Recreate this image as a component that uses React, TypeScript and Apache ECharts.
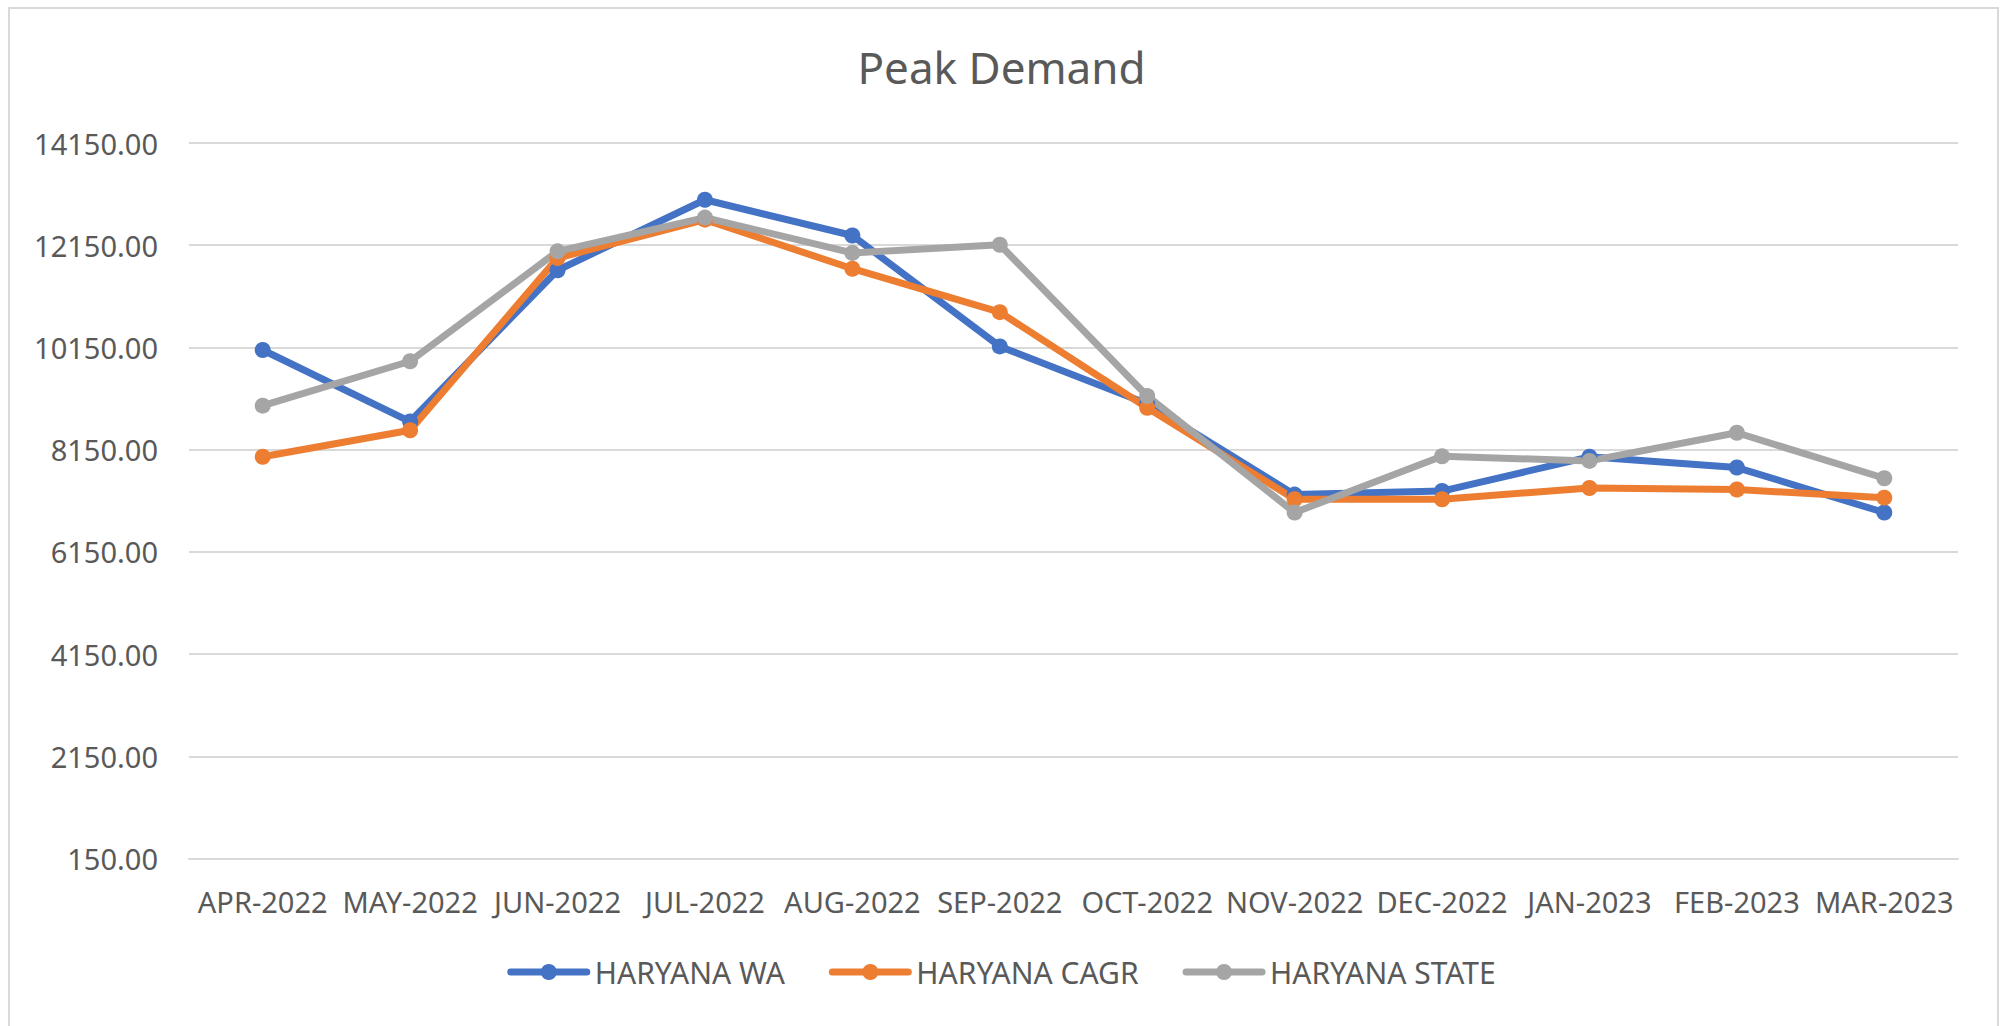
import React, { useEffect, useRef } from "react";
import * as echarts from "echarts";

const categories = [
  "APR-2022", "MAY-2022", "JUN-2022", "JUL-2022", "AUG-2022", "SEP-2022",
  "OCT-2022", "NOV-2022", "DEC-2022", "JAN-2023", "FEB-2023", "MAR-2023",
];
const haryanaWA = [10100, 8700, 11660, 13040, 12340, 10170, 9050, 7270, 7340, 8010, 7800, 6920];
const haryanaCAGR = [8010, 8530, 11900, 12650, 11690, 10840, 8970, 7180, 7180, 7400, 7370, 7210];
const haryanaState = [9010, 9880, 12030, 12690, 12000, 12160, 9200, 6920, 8020, 7930, 8480, 7590];
const yMin = 150;
const yMax = 14150;
const yStep = 2000;

const FONT = "Noto Sans";
const TEXT = "#595959";

export default function App() {
  const ref = useRef<HTMLDivElement>(null);
  useEffect(() => {
    if (!ref.current) return;
    const chart = echarts.init(ref.current, undefined, { renderer: "svg" });
    const mk = (name: string, data: number[], color: string) => ({
      name,
      type: "line",
      data,
      symbol: "circle",
      symbolSize: 16,
      showSymbol: true,
      lineStyle: { width: 7, color },
      itemStyle: { color },
      emphasis: { disabled: true },
    });
    chart.setOption({
      animation: false,
      backgroundColor: "#ffffff",
      textStyle: { fontFamily: FONT },
      title: {
        text: "Peak Demand",
        left: "center",
        top: 40,
        textStyle: { fontFamily: FONT, fontSize: 44, fontWeight: "normal", color: TEXT },
      },
      graphic: [
        {
          type: "rect",
          shape: { x: 9, y: 8, width: 1989, height: 1040 },
          style: { fill: "none", stroke: "#D9D9D9", lineWidth: 2 },
          silent: true,
          z: -1,
        },
      ],
      legend: {
        bottom: 34,
        left: "center",
        itemWidth: 76,
        itemHeight: 20,
        itemGap: 44,
        lineStyle: { width: 7, cap: "round" },
        textStyle: { fontFamily: FONT, fontSize: 30, color: TEXT, padding: [0, 0, 0, 3] },
        data: ["HARYANA WA", "HARYANA CAGR", "HARYANA STATE"],
      },
      grid: { left: 189, right: 45, top: 143, bottom: 167.5, containLabel: false },
      xAxis: {
        type: "category",
        data: categories,
        boundaryGap: true,
        axisLine: { show: true, lineStyle: { color: "#D9D9D9", width: 2 } },
        axisTick: { show: false },
        axisLabel: { color: TEXT, fontFamily: FONT, fontSize: 29, margin: 28, interval: 0 },
      },
      yAxis: {
        type: "value",
        min: yMin,
        max: yMax,
        interval: yStep,
        axisLine: { show: false },
        axisTick: { show: false },
        splitLine: { lineStyle: { color: "#D9D9D9", width: 2 } },
        axisLabel: {
          color: TEXT,
          fontFamily: FONT,
          fontSize: 29,
          margin: 31,
          formatter: (v: number) => v.toFixed(2),
        },
      },
      series: [
        mk("HARYANA WA", haryanaWA, "#4472C4"),
        mk("HARYANA CAGR", haryanaCAGR, "#ED7D31"),
        mk("HARYANA STATE", haryanaState, "#A5A5A5"),
      ],
    });
    return () => chart.dispose();
  }, []);
  return (
    <div
      ref={ref}
      style={{ position: "fixed", left: 0, top: 0, width: 2003, height: 1026, background: "#fff" }}
    />
  );
}
